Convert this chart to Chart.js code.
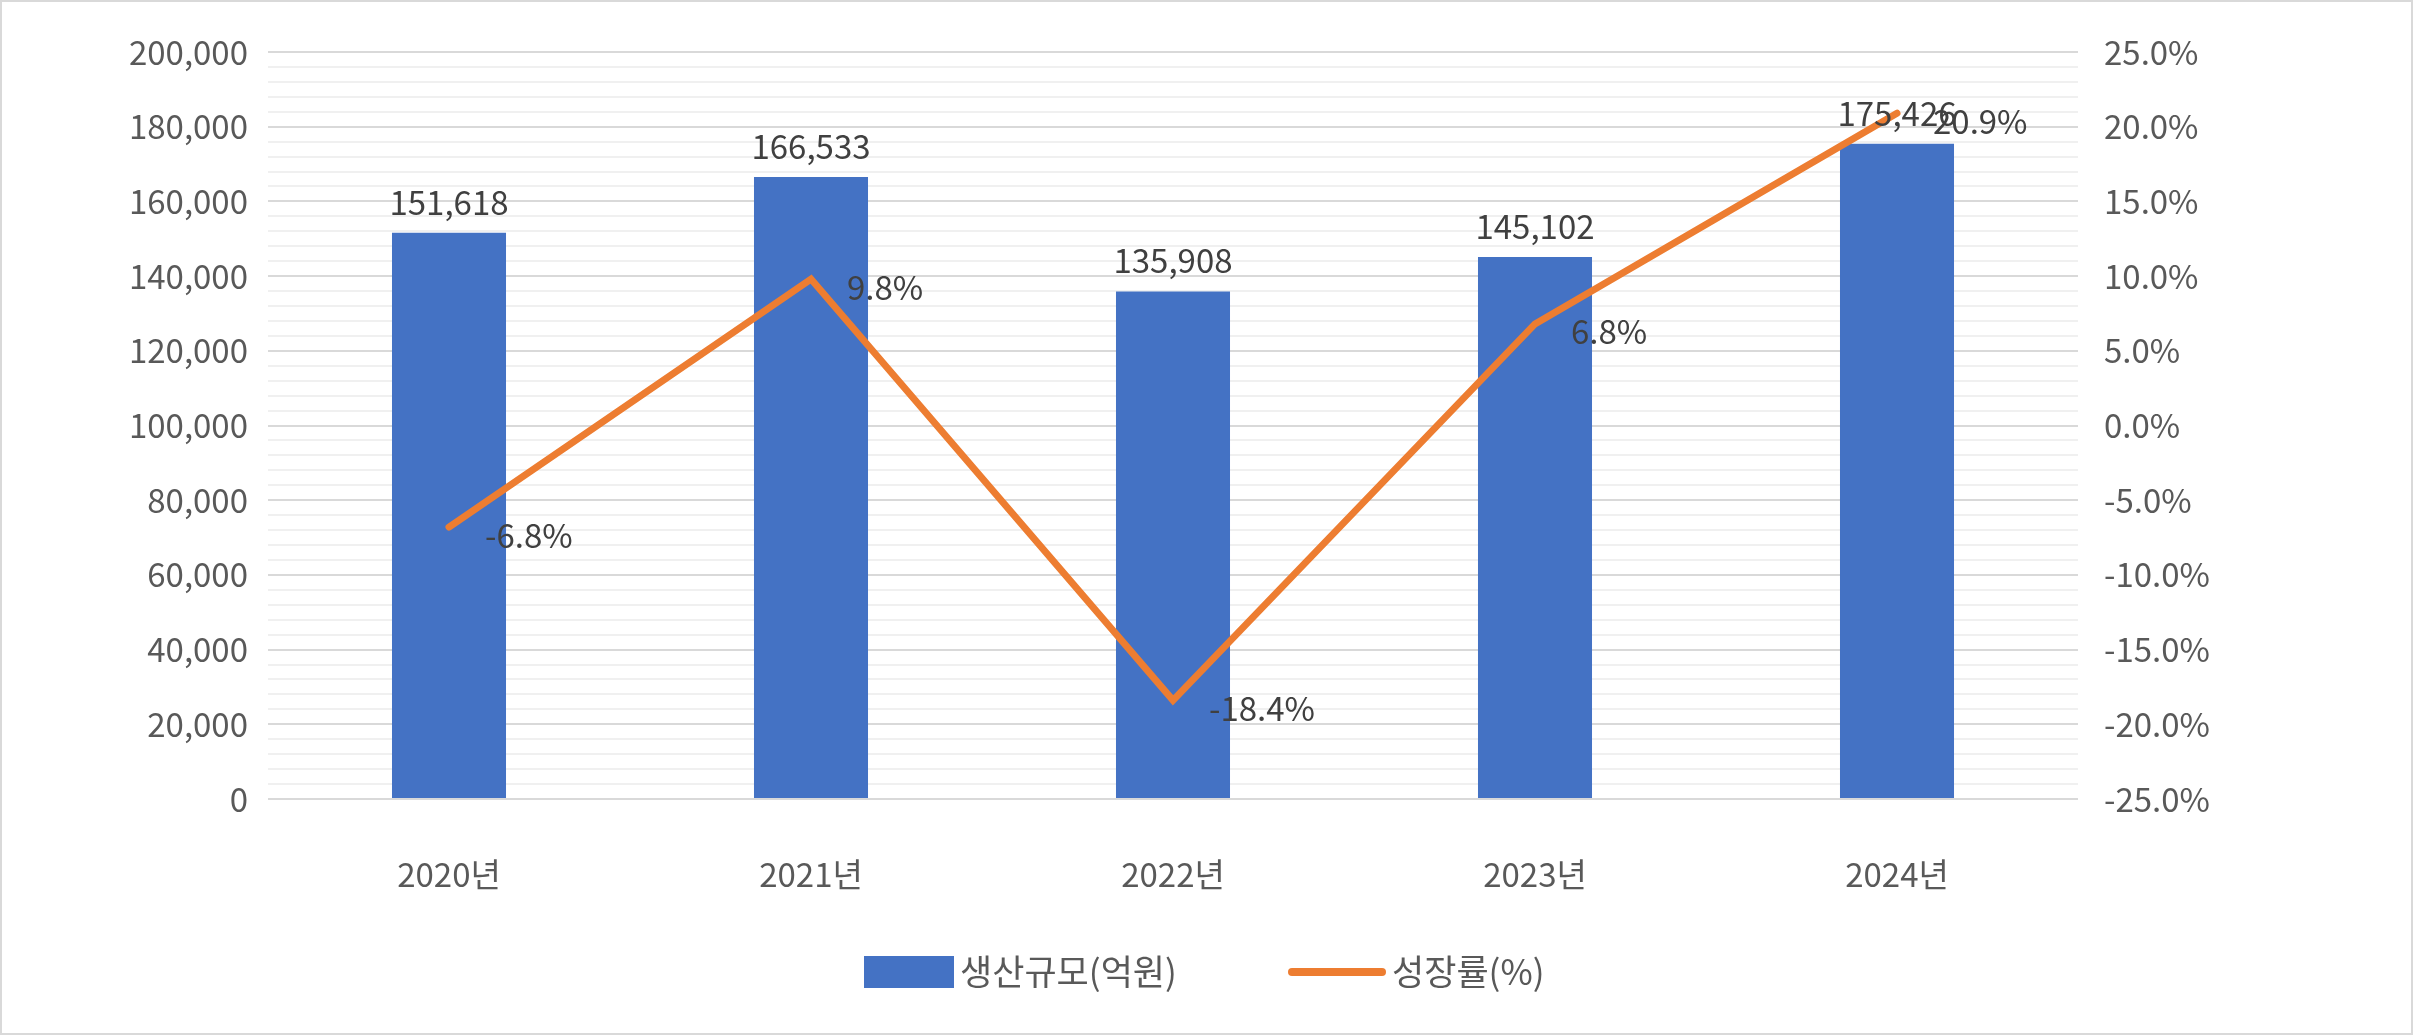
<!DOCTYPE html>
<html><head><meta charset="utf-8">
<script src="https://cdn.jsdelivr.net/npm/chart.js@4"></script>
<style>html,body{margin:0;padding:0;background:#fff}#w{width:2413px;height:1035px;box-sizing:border-box;border:2px solid #d9d9d9}</style>
</head><body><div id="w"><canvas id="c"></canvas></div>
<script>
const categories=['2020년','2021년','2022년','2023년','2024년'];
const production=[151618,166533,135908,145102,175426];
const growth=[-6.8,9.8,-18.4,6.8,20.9];
const seriesNames=['생산규모(억원)','성장률(%)'];
const FONT='"Noto Sans CJK KR","Noto Sans",sans-serif';
const labelsPlugin={id:'lbl',afterDatasetsDraw(ch){
  const ctx=ch.ctx;ctx.save();ctx.font='33px '+FONT;ctx.fillStyle='#404040';
  ch.getDatasetMeta(1).data.forEach((b,i)=>{ctx.textAlign='center';ctx.textBaseline='bottom';
    ctx.fillText(production[i].toLocaleString('en-US'),b.x,b.y-14);});
  ch.getDatasetMeta(0).data.forEach((p,i)=>{ctx.textAlign='left';ctx.textBaseline='middle';
    ctx.fillText(growth[i].toFixed(1)+'%',p.x+36,p.y+8);});
  const y=970;ctx.fillStyle='#4472C4';ctx.fillRect(862,y-16,90,32);
  ctx.fillStyle='#595959';ctx.textAlign='left';ctx.textBaseline='middle';ctx.font='35px '+FONT;
  ctx.fillText(seriesNames[0],958,y);
  ctx.strokeStyle='#ED7D31';ctx.lineWidth=8;ctx.lineCap='round';ctx.beginPath();ctx.moveTo(1290,y);ctx.lineTo(1380,y);ctx.stroke();
  ctx.fillText(seriesNames[1],1390,y);
  ctx.restore();}};
new Chart(document.getElementById('c'),{
  data:{labels:categories,datasets:[
    {type:'line',label:seriesNames[1],data:growth,yAxisID:'y1',borderColor:'#ED7D31',borderWidth:7,pointRadius:0,tension:0,order:0,borderCapStyle:'round'},
    {type:'bar',label:seriesNames[0],data:production,yAxisID:'y',backgroundColor:'#4472C4',categoryPercentage:1,barPercentage:0.315,order:1}
  ]},
  options:{responsive:true,maintainAspectRatio:false,animation:false,
    layout:{padding:{top:50,left:0,right:0,bottom:0}},
    plugins:{legend:{display:false},tooltip:{enabled:false}},
    scales:{
      x:{grid:{display:false},border:{display:false},ticks:{color:'#595959',font:{size:33,family:FONT},padding:48},afterFit(s){s.height=234;}},
      y:{min:0,max:200000,position:'left',border:{display:false},
        ticks:{stepSize:4000,color:'#595959',font:{size:33,family:FONT},padding:20,autoSkip:false,
          callback:v=>v%20000===0?v.toLocaleString('en-US'):''},
        grid:{color:c=>c.tick.value%20000===0?'#d9d9d9':'#f0f0f0',lineWidth:2,drawTicks:false},
        afterFit(s){s.width=266;}},
      y1:{min:-25,max:25,position:'right',border:{display:false},grid:{display:false},
        ticks:{stepSize:5,color:'#595959',font:{size:33,family:FONT},padding:18,callback:v=>v.toFixed(1)+'%'},
        afterFit(s){s.width=333;}}
    }},
  plugins:[labelsPlugin]});
</script></body></html>
